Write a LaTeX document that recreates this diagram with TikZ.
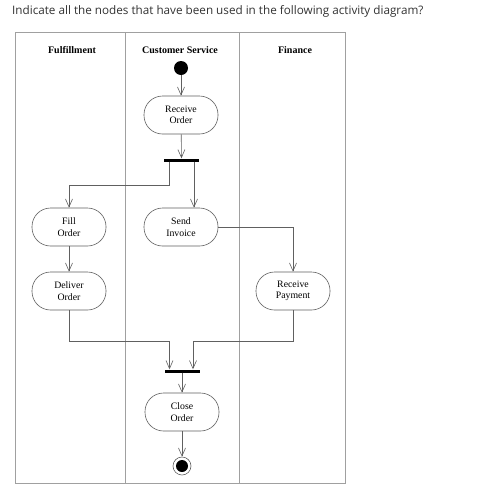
\documentclass[tikz,border=0pt]{standalone}
\usepackage{fontspec}
\setmainfont{Liberation Serif}
\newfontfamily\titlefont{Open Sans}
\usetikzlibrary{arrows.meta,calc}
\definecolor{frameC}{HTML}{A0A0A0}
\definecolor{lineC}{HTML}{606060}
\definecolor{arrC}{HTML}{808080}
\definecolor{titleC}{HTML}{333333}
\begin{document}
\begin{tikzpicture}[x=1pt,y=-1pt,
  act/.style={draw=lineC, line width=0.6pt, rounded corners=18.5pt, minimum width=74pt, minimum height=38pt, inner sep=0pt, align=center, font=\fontsize{9.8}{11.5}\selectfont},
  bar/.style={fill=black, minimum width=35pt, minimum height=3pt, inner sep=0pt},
  lane/.style={font=\fontsize{10}{12}\selectfont\bfseries},
  flow/.style={draw=lineC, line width=0.6pt, -{Straight Barb[length=8pt,width=7pt]}},
  plain/.style={draw=lineC, line width=0.6pt}
]
\useasboundingbox (0,0) rectangle (500,499);
\fill[white] (0,0) rectangle (500,499);
\node[anchor=base west, text=titleC, font=\titlefont\fontsize{11.7}{14}\selectfont, inner sep=0pt] (title) at (12,14) {Indicate all the nodes that have been used in the following activity diagram?};
% swimlanes
\draw[frameC, line width=0.6pt] (15,32) rectangle (345,483);
\draw[frameC, line width=0.6pt] (125,32) -- (125,483);
\draw[frameC, line width=0.6pt] (239,32) -- (239,483);
\node[lane] (h1) at (72,50) {Fulfillment};
\node[lane] (h2) at (180,50) {Customer Service};
\node[lane] (h3) at (295,50) {Finance};
% nodes
\node[circle, fill=black, minimum size=14pt, inner sep=0pt] (start) at (181,68) {};
\node[act] (recv) at (181,115) {Receive\\Order};
\node[bar] (fork) at (181.5,160) {};
\node[act] (fill) at (69,227) {Fill\\Order};
\node[act] (send) at (181,227) {Send\\Invoice};
\node[act] (deliv) at (69,291) {Deliver\\Order};
\node[act] (pay) at (293,291) {Receive\\Payment};
\node[bar] (join) at (182,371) {};
\node[act] (close) at (182,412) {Close\\Order};
\node[circle, draw=lineC, line width=0.6pt, minimum size=18pt, inner sep=0pt] (end) at (182,466) {};
\node[circle, fill=black, minimum size=12pt, inner sep=0pt] at (end) {};
% connectors
\draw[flow] (start) -- (recv);
\draw[flow] (recv) -- (fork);
\draw[flow] ([xshift=-12.5pt]fork.south) -- ++(0,24) -| (fill.north);
\draw[flow] ([xshift=12.5pt]fork.south) -- ([xshift=12.5pt]fork.south |- send.north);
\draw[flow] (send.east) -| (pay.north);
\draw[flow] (fill) -- (deliv);
\draw[flow] (deliv.south) -- ++(0,31) -| ([xshift=-12.5pt]join.north);
\draw[flow] (pay.south) -- ++(0,31) -| ([xshift=11pt]join.north);
\draw[flow] (join) -- (close);
\draw[flow] (close) -- (end);
\end{tikzpicture}
\end{document}
